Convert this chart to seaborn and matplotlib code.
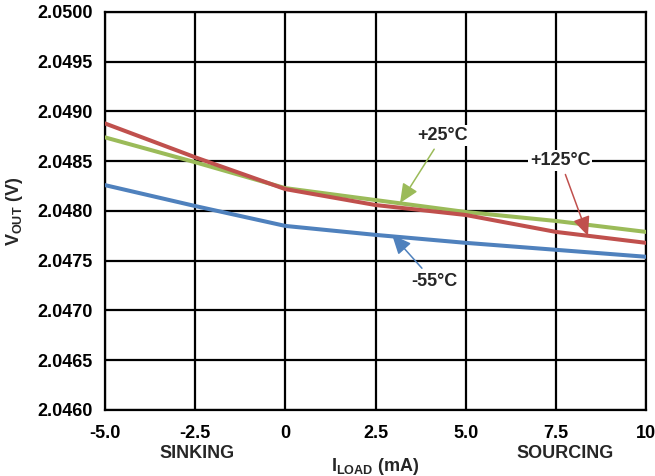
import matplotlib
matplotlib.use("Agg")
import matplotlib.pyplot as plt
import seaborn as sns
import pandas as pd

i_load = [-5.0, -2.5, 0.0, 2.5, 5.0, 7.5, 10.0]
v_125 = [2.04888, 2.04854, 2.04822, 2.04806, 2.04796, 2.04779, 2.04768]
v_25 = [2.04874, 2.04849, 2.04823, 2.04811, 2.04799, 2.04790, 2.04779]
v_m55 = [2.04826, 2.04805, 2.04785, 2.04776, 2.04768, 2.04761, 2.04754]
x_ticks = [-5.0, -2.5, 0.0, 2.5, 5.0, 7.5, 10.0]
x_tick_labels = ["-5.0", "-2.5", "0", "2.5", "5.0", "7.5", "10"]
y_ticks = [2.0460, 2.0465, 2.0470, 2.0475, 2.0480, 2.0485, 2.0490, 2.0495, 2.0500]

sns.set_theme(style="white")
plt.rcParams['font.family'] = ['Liberation Sans', 'DejaVu Sans']
plt.rcParams['mathtext.fontset'] = 'custom'
plt.rcParams['mathtext.rm'] = 'Liberation Sans:bold'
plt.rcParams['mathtext.bf'] = 'Liberation Sans:bold'
plt.rcParams['mathtext.it'] = 'Liberation Sans:bold'

FS = 13

df = pd.DataFrame({
    "I": i_load * 3,
    "V": v_m55 + v_25 + v_125,
    "T": ["-55°C"] * 7 + ["+25°C"] * 7 + ["+125°C"] * 7,
})
colors = {"-55°C": "#4F81BD", "+25°C": "#9BBB59", "+125°C": "#C0504D"}

fig = plt.figure(figsize=(6.55, 4.76), dpi=100)
ax = fig.add_axes([105 / 655, 1 - 410 / 476, 541 / 655, 398 / 476])
sns.lineplot(data=df, x="I", y="V", hue="T", palette=colors, linewidth=2.9,
             legend=False, ax=ax, zorder=3)

ax.set_xlim(-5, 10)
ax.set_ylim(2.046, 2.050)
ax.set_xticks(x_ticks)
ax.set_xticklabels(x_tick_labels)
ax.set_yticks(y_ticks)
ax.set_yticklabels([f"{v:.4f}" for v in y_ticks])
ax.grid(True, color="black", linewidth=1.6)
for s in ax.spines.values():
    s.set_color("black")
    s.set_linewidth(1.6)
ax.tick_params(axis="x", length=0, pad=10.5, labelsize=FS, colors="black")
ax.tick_params(axis="y", length=0, pad=9, labelsize=FS, colors="black")
for lbl in ax.get_xticklabels() + ax.get_yticklabels():
    lbl.set_fontweight("bold")

ax.set_xlabel(r"$\mathbf{I_{LOAD}}$ (mA)", fontsize=FS, fontweight="bold", va="top")
ax.xaxis.set_label_coords(0.5, -0.116)
ax.set_ylabel(r"$\mathbf{V_{OUT}}$ (V)", fontsize=FS, fontweight="bold", va="center")
ax.yaxis.set_label_coords(-0.168, 0.5)

fig.text(197 / 655, 1 - 454 / 476, "SINKING", ha="center", va="center",
         fontsize=FS, fontweight="bold")
fig.text(565 / 655, 1 - 454 / 476, "SOURCING", ha="center", va="center",
         fontsize=FS, fontweight="bold")

arrow_style = "-|>,head_length=0.9,head_width=0.4"
ax.annotate("+25°C", xy=(3.18, 2.04808), xytext=(4.37, 2.04876),
            ha="center", va="center", fontsize=FS, fontweight="bold",
            bbox=dict(boxstyle="square,pad=0.1", fc="white", ec="none"),
            arrowprops=dict(arrowstyle=arrow_style,
                            color="#9BBB59", lw=1.1, shrinkA=3, shrinkB=0),
            zorder=5)
ax.annotate("+125°C", xy=(8.39, 2.04775), xytext=(7.62, 2.04851),
            ha="center", va="center", fontsize=FS, fontweight="bold",
            bbox=dict(boxstyle="square,pad=0.1", fc="white", ec="none"),
            arrowprops=dict(arrowstyle=arrow_style,
                            color="#C0504D", lw=1.1, shrinkA=3, shrinkB=0),
            zorder=5)
ax.annotate("-55°C", xy=(2.96, 2.04776), xytext=(4.12, 2.04729),
            ha="center", va="center", fontsize=FS, fontweight="bold",
            bbox=dict(boxstyle="square,pad=0.1", fc="white", ec="none"),
            arrowprops=dict(arrowstyle=arrow_style,
                            color="#4F81BD", lw=1.1, shrinkA=3, shrinkB=0),
            zorder=5)

fig.savefig("out.png", dpi=100)
